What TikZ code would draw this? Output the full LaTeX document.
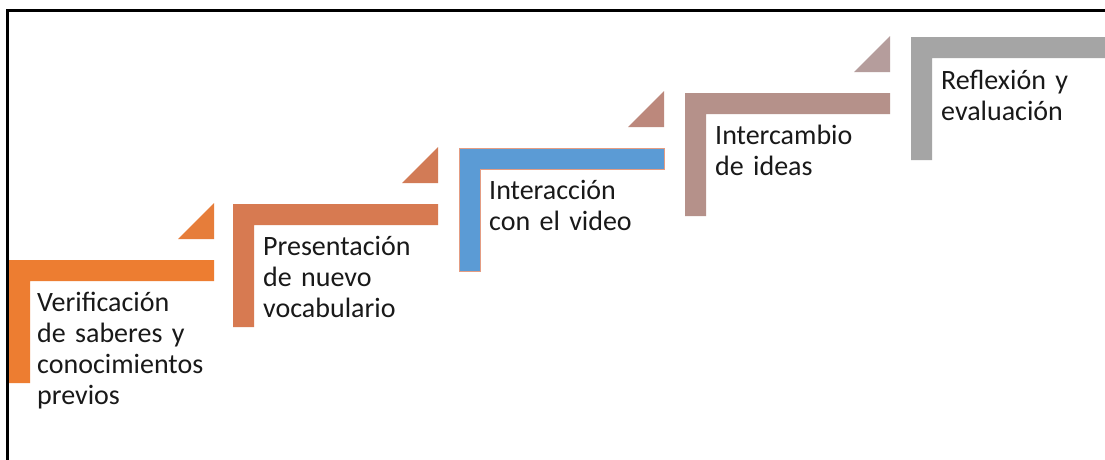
\documentclass[tikz,border=0pt]{standalone}
\usepackage{fontspec}
\setmainfont{Carlito}
\definecolor{cA}{HTML}{ED7D31}
\definecolor{tA}{HTML}{E67D3A}
\definecolor{cB}{HTML}{D77A51}
\definecolor{tB}{HTML}{D27B56}
\definecolor{cC}{HTML}{5B9BD5}
\definecolor{oC}{HTML}{E49C82}
\definecolor{tC}{HTML}{BC887C}
\definecolor{cD}{HTML}{B5918A}
\definecolor{tD}{HTML}{B59D9C}
\definecolor{cE}{HTML}{A5A5A5}
\tikzset{
  steplabel/.style={anchor=base west, inner sep=0pt, text width=200pt, align=left,
    font=\fontsize{28}{31}\selectfont, text=black!90},
  frameline/.style={line width=2.2pt, black}
}
\newcommand{\stepshape}[3]{%
  \fill[#3] (#1,#2) -- ++(205,0) -- ++(0,21) -- ++(-184,0) -- ++(0,102) -- ++(-21,0) -- cycle;}
\newcommand{\steptri}[3]{%
  \fill[#3] (#1+169,#2-21) -- (#1+205,#2-21) -- (#1+205,#2-57) -- cycle;}
\begin{document}
\begin{tikzpicture}[x=1pt,y=-1pt]
\useasboundingbox (0,0) rectangle (1105,459);
\clip (0,0) rectangle (1105,459);
\fill[white] (0,0) rectangle (1105,459);
% steps
\stepshape{9}{260}{cA}
\steptri{9}{260}{tA}
\stepshape{233}{204}{cB}
\steptri{233}{204}{tB}
\stepshape{459}{148}{cC}
\draw[oC, line width=0.8pt] (459,148) -- ++(205,0) -- ++(0,21) -- ++(-184,0) -- ++(0,102) -- ++(-21,0) -- cycle;
\steptri{459}{148}{tC}
\stepshape{685}{93}{cD}
\steptri{685}{93}{tD}
\stepshape{911}{37}{cE}
% labels
\node[steplabel] (s1) at (37,311) {Verificación\\de saberes y\\conocimientos\\previos};
\node[steplabel] (s2) at (263,255) {Presentación\\de nuevo\\vocabulario};
\node[steplabel] (s3) at (489,199) {Interacción\\con el video};
\node[steplabel] (s4) at (715,144) {Intercambio\\de ideas};
\node[steplabel] (s5) at (941,89) {Reflexión y\\evaluación};
% frame
\draw[frameline] (1106,10.5) -- (7.5,10.5) -- (7.5,460);
\end{tikzpicture}
\end{document}
